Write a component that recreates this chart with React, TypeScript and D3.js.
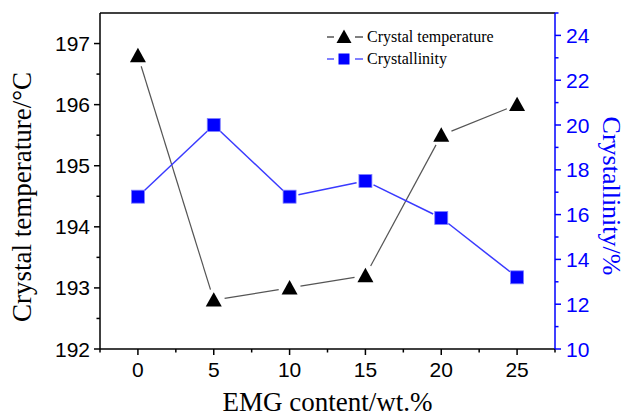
import React from 'react';
import * as d3 from 'd3';

// EMG content (wt.%)
const content = [0, 5, 10, 15, 20, 25];
// crystal temperature (°C), left axis
const temperature = [196.8, 192.8, 193.0, 193.2, 195.5, 196.0];
// crystallinity (%), right axis
const crystallinity = [16.8, 20.0, 16.8, 17.5, 15.85, 13.2];

const xTicks = [0, 5, 10, 15, 20, 25];
const leftTicks = [192, 193, 194, 195, 196, 197];
const rightTicks = [10, 12, 14, 16, 18, 20, 22, 24];

const W = 629;
const H = 419;
const margin = { top: 13, right: 74, bottom: 70, left: 100 };
const BLUE = '#0000ff';
const SANS = 'Liberation Sans, Arial';
const SERIF = 'Liberation Serif, Times New Roman';

// shorten a segment at both ends so it doesn't touch the markers (Origin style)
function gapSegment(x1: number, y1: number, x2: number, y2: number, gap: number) {
  const dx = x2 - x1, dy = y2 - y1;
  const len = Math.sqrt(dx * dx + dy * dy);
  if (len <= gap * 2) return null;
  const ux = dx / len, uy = dy / len;
  return [x1 + ux * gap, y1 + uy * gap, x2 - ux * gap, y2 - uy * gap];
}

function triPath(cx: number, cy: number, s: number) {
  const h = s * 0.9;
  return `M${cx},${cy - h * 0.55}L${cx + s / 2},${cy + h * 0.45}L${cx - s / 2},${cy + h * 0.45}Z`;
}

export default function App() {
  const x0 = margin.left, x1 = W - margin.right;
  const y0 = H - margin.bottom, y1 = margin.top;

  const x = d3.scaleLinear().domain([-2.5, 27.5]).range([x0, x1]);
  const yL = d3.scaleLinear().domain([192, 197.5]).range([y0, y1]);
  const yR = d3.scaleLinear().domain([10, 25]).range([y0, y1]);

  const xMinor = d3.range(-2.5, 27.6, 5);
  const leftMinor = d3.range(192.5, 197.5, 1);
  const rightMinor = d3.range(11, 25.1, 2);

  const tPts = content.map((c, i) => [x(c), yL(temperature[i])]);
  const cPts = content.map((c, i) => [x(c), yR(crystallinity[i])]);

  const segs = (pts: number[][], gap: number) =>
    d3.pairs(pts).map(([a, b]) => gapSegment(a[0], a[1], b[0], b[1], gap)).filter(Boolean) as number[][];

  return (
    <svg width={W} height={H} style={{ position: 'absolute', left: 0, top: 0, background: '#fff' }}>
      {/* frame: top */}
      <line x1={x0} x2={x1} y1={y1} y2={y1} stroke="#000" strokeWidth={1.5} />
      {/* bottom axis */}
      <line x1={x0} x2={x1} y1={y0} y2={y0} stroke="#000" strokeWidth={1.5} />
      {xTicks.map(t => (
        <g key={'xt' + t}>
          <line x1={x(t)} x2={x(t)} y1={y0} y2={y0 + 6} stroke="#000" strokeWidth={1.5} />
          <text x={x(t)} y={y0 + 28} textAnchor="middle" fontFamily={SANS} fontSize={21}>{t}</text>
        </g>
      ))}
      {xMinor.map(t => (
        <line key={'xm' + t} x1={x(t)} x2={x(t)} y1={y0} y2={y0 + 3.5} stroke="#000" strokeWidth={1.5} />
      ))}
      <text x={(x0 + x1) / 2} y={411} textAnchor="middle" fontFamily={SERIF} fontSize={27}>EMG content/wt.%</text>

      {/* left axis */}
      <line x1={x0} x2={x0} y1={y0} y2={y1} stroke="#000" strokeWidth={1.5} />
      {leftTicks.map(t => (
        <g key={'lt' + t}>
          <line x1={x0} x2={x0 - 6} y1={yL(t)} y2={yL(t)} stroke="#000" strokeWidth={1.5} />
          <text x={x0 - 10} y={yL(t) + 7.5} textAnchor="end" fontFamily={SANS} fontSize={21}>{t}</text>
        </g>
      ))}
      {leftMinor.map(t => (
        <line key={'lm' + t} x1={x0} x2={x0 - 3.5} y1={yL(t)} y2={yL(t)} stroke="#000" strokeWidth={1.5} />
      ))}
      <text transform={`translate(31,197) rotate(-90)`} textAnchor="middle" fontFamily={SERIF} fontSize={27}>Crystal temperature/°C</text>

      {/* right axis */}
      <line x1={x1} x2={x1} y1={y0} y2={y1} stroke={BLUE} strokeWidth={1.5} />
      {rightTicks.map(t => (
        <g key={'rt' + t}>
          <line x1={x1} x2={x1 + 6} y1={yR(t)} y2={yR(t)} stroke={BLUE} strokeWidth={1.5} />
          <text x={x1 + 11} y={yR(t) + 7.5} textAnchor="start" fill={BLUE} fontFamily={SANS} fontSize={21}>{t}</text>
        </g>
      ))}
      {rightMinor.map(t => (
        <line key={'rm' + t} x1={x1} x2={x1 + 3.5} y1={yR(t)} y2={yR(t)} stroke={BLUE} strokeWidth={1.5} />
      ))}
      <text transform={`translate(603,196) rotate(90)`} textAnchor="middle" fill={BLUE} fontFamily={SERIF} fontSize={26}>Crystallinity/%</text>

      {/* temperature series */}
      {segs(tPts, 11).map((s, i) => (
        <line key={'ts' + i} x1={s[0]} y1={s[1]} x2={s[2]} y2={s[3]} stroke="#555" strokeWidth={1.2} />
      ))}
      {tPts.map((p, i) => (
        <path key={'tm' + i} d={triPath(p[0], p[1], 16)} fill="#000" />
      ))}

      {/* crystallinity series */}
      {segs(cPts, 9).map((s, i) => (
        <line key={'cs' + i} x1={s[0]} y1={s[1]} x2={s[2]} y2={s[3]} stroke="#3a3aff" strokeWidth={1.5} />
      ))}
      {cPts.map((p, i) => (
        <rect key={'cm' + i} x={p[0] - 6.5} y={p[1] - 6.5} width={13} height={13} fill={BLUE} stroke="#8080ff" strokeWidth={0.8} />
      ))}

      {/* legend */}
      <g>
        <line x1={327} x2={334} y1={37} y2={37} stroke="#000" strokeWidth={1} />
        <path d={triPath(344, 37, 15)} fill="#000" />
        <line x1={355} x2={363} y1={37} y2={37} stroke="#000" strokeWidth={1} />
        <text x={367} y={42} fontFamily={SERIF} fontSize={16}>Crystal temperature</text>
        <line x1={327} x2={334} y1={59} y2={59} stroke={BLUE} strokeWidth={1} />
        <rect x={338.5} y={53.5} width={11} height={11} fill={BLUE} />
        <line x1={355} x2={363} y1={59} y2={59} stroke={BLUE} strokeWidth={1} />
        <text x={367} y={64} fontFamily={SERIF} fontSize={16}>Crystallinity</text>
      </g>
    </svg>
  );
}
